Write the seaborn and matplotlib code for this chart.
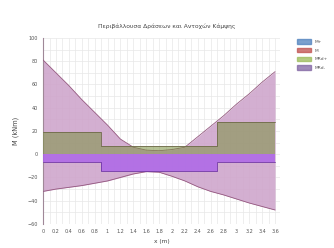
import numpy as np
import pandas as pd
import seaborn as sns
import matplotlib.pyplot as plt
from matplotlib.patches import Patch

# envelope of design moments
x_pts = [0, 0.2, 0.4, 0.6, 0.8, 1.0, 1.2, 1.4, 1.6, 1.8, 2.0, 2.2, 2.4, 2.6, 2.8, 3.0, 3.2, 3.4, 3.6]
m_pos = [81, 70, 59, 47, 36, 25, 13, 6, 3.5, 3, 4, 6, 15, 24, 33, 43, 52, 62, 71]
m_neg = [-32, -30, -28.5, -27, -25, -23, -20, -17, -15, -15.5, -19, -23, -28, -32, -35, -38.5, -42, -45, -48]

# resistances (stepped)
x_steps = [0, 0.9, 2.7, 3.6]
mrd_pos = [19, 7, 27.5, 27.5]
mrd_neg = [-7, -14.5, -7, -7]

labels = ['M+', 'M-', 'MRd+', 'MRd-']
colors = ['#4F81BD', '#C0504D', '#9BBB59', '#8064A2']

title = 'Περιβάλλουσα Δράσεων και Αντοχών Κάμψης'

sns.set_theme(style='white')
plt.rcParams['font.family'] = ['DejaVu Sans']

fig = plt.figure(figsize=(3.34, 2.48), dpi=100)
ax = fig.add_axes([0.129, 0.097, 0.71, 0.75])

env = pd.DataFrame({'x': x_pts, 'pos': m_pos, 'neg': m_neg})

# envelope fill (two overlapping series)
ax.fill_between(env['x'], env['neg'], env['pos'], color='#cfa6cc', alpha=0.9, lw=0, zorder=2)
sns.lineplot(data=env, x='x', y='pos', ax=ax, color='#94587f', lw=0.6, zorder=3)
sns.lineplot(data=env, x='x', y='neg', ax=ax, color='#94587f', lw=0.6, zorder=3)

# resistance bands
ax.fill_between(x_steps, 0, mrd_pos, step='post', color='#7a913f', alpha=0.55, lw=0, zorder=4)
ax.step(x_steps, mrd_pos, where='post', color='#6f6a4a', lw=0.6, zorder=5)
ax.fill_between(x_steps, 0, mrd_neg, step='post', color='#ab62ea', alpha=0.8, lw=0, zorder=4)
ax.step(x_steps, mrd_neg, where='post', color='#7036a6', lw=0.6, zorder=5)

ax.set_xlim(0, 3.68)
ax.set_ylim(-60, 100)
ax.set_xticks(np.arange(0, 3.61, 0.2))
ax.set_xticklabels(['0', '0.2', '0.4', '0.6', '0.8', '1', '1.2', '1.4', '1.6', '1.8',
                    '2', '2.2', '2.4', '2.6', '2.8', '3', '3.2', '3.4', '3.6'])
ax.set_yticks(range(-60, 101, 20))
ax.set_xticks(np.arange(0, 3.68, 0.1), minor=True)
ax.set_yticks(range(-60, 101, 10), minor=True)
ax.grid(which='both', color='#e8e8e8', lw=0.5, zorder=0)
ax.set_axisbelow(True)
ax.tick_params(labelsize=3.5, colors='#555555', length=0, pad=4)
for s in ['top', 'right', 'bottom']:
    ax.spines[s].set_visible(False)
ax.spines['left'].set_color('#a08898')
ax.spines['left'].set_linewidth(0.8)

ax.set_xlabel('x (m)', fontsize=4.2, color='#444444', labelpad=3)
ax.set_ylabel('M (kNm)', fontsize=4.8, color='#444444', labelpad=6)
fig.suptitle(title, fontsize=4.3, color='#444444', y=0.905)

handles = [Patch(facecolor=c, edgecolor=c, alpha=0.75) for c in colors]
fig.legend(handles, labels, loc='upper left', bbox_to_anchor=(0.878, 0.86), frameon=False,
           fontsize=3.2, handlelength=3.2, handleheight=1.3, labelspacing=0.9, labelcolor='#555555')

fig.savefig('out.png', dpi=100)
